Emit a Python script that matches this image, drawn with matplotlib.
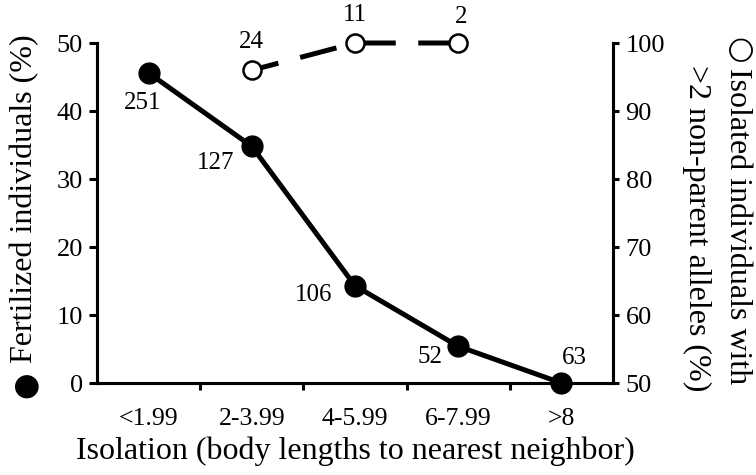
import numpy as np
import matplotlib.pyplot as plt

plt.rcParams['font.family'] = ['Liberation Serif', 'DejaVu Serif']

# data
categories = ['<1.99', '2-3.99', '4-5.99', '6-7.99', '>8']
fertilized = [45.6, 34.8, 14.3, 5.4, 0.0]
fert_n = ['251', '127', '106', '52', '63']
isolated_idx = [1, 2, 3]
isolated = [96.0, 100.0, 100.0]
iso_n = ['24', '11', '2']

W, H = 756, 475
fig = plt.figure(figsize=(W / 100, H / 100), dpi=100)
ax = fig.add_axes([97 / W, 1 - 383 / H, 516 / W, 340 / H])
ax2 = ax.twinx()

x = np.arange(len(categories)) + 0.5

ax.plot(x, fertilized, color='black', lw=3.6, marker='o', ms=15,
        mfc='black', mec='black', zorder=3, clip_on=False)
ax2.plot(x[isolated_idx], isolated, color='black', lw=3.6, ls=(2, (7.5, 4.5)),
         marker='o', ms=13, mfc='white', mec='black', mew=1.8,
         zorder=3, clip_on=False)

# sample sizes
offs_f = [(-4, -22), (-26, -12), (-30, -7), (-20, -8), (9, 18)]
for xi, yi, s, (dx, dy) in zip(x, fertilized, fert_n, offs_f):
    ax.annotate(s, (xi, yi), xytext=(dx, dy), textcoords='offset points',
                ha='center', va='center', fontsize=18)
offs_i = [(0, 20), (0, 20), (2, 19)]
for i, yi, s, (dx, dy) in zip(isolated_idx, isolated, iso_n, offs_i):
    ax2.annotate(s, (x[i], yi), xytext=(dx, dy), textcoords='offset points',
                 ha='center', va='center', fontsize=18, annotation_clip=False)

ax.set_xlim(0, 5)
ax.set_ylim(0, 50)
ax2.set_ylim(50, 100)
ax.set_yticks(np.arange(0, 51, 10))
ax2.set_yticks(np.arange(50, 101, 10))

ax.set_xticks([1, 2, 3, 4])
ax.set_xticklabels([])
ax.set_xticks(x, minor=True)
ax.set_xticklabels(categories, minor=True, fontsize=18.5)
ax.tick_params(axis='x', which='minor', length=0, pad=18)
ax.tick_params(axis='x', which='major', length=5, width=2.2, direction='out')
ax.tick_params(axis='y', length=6, width=2.2, labelsize=19, pad=4)
ax2.tick_params(axis='y', length=4, width=2.2, labelsize=19, pad=5)

for a in (ax, ax2):
    a.spines['top'].set_visible(False)
    for side in ('left', 'right', 'bottom'):
        a.spines[side].set_linewidth(2.2)

ax.set_xlabel('Isolation (body lengths to nearest neighbor)', fontsize=23, labelpad=5)

# left axis title with a large filled-circle key
fig.text(25 / W, 1 - 385 / H, '\u25cf', family='DejaVu Sans', fontsize=22,
         ha='center', va='center', rotation=90)
fig.text(25 / W, 1 - 363 / H, 'Fertilized individuals (%)', fontsize=23,
         ha='center', va='bottom', rotation=90)

# right axis title with an open-circle key
fig.text(739 / W, 1 - 50 / H, '\u25cb', family='DejaVu Sans', fontsize=22,
         ha='center', va='center', rotation=270)
fig.text(738 / W, 1 - 68 / H, 'Isolated individuals with', fontsize=23,
         ha='center', va='top', rotation=270)
fig.text(697 / W, 1 - 65 / H, '>2 non-parent alleles (%)', fontsize=23,
         ha='center', va='top', rotation=270)

fig.savefig('out.png', dpi=100)
